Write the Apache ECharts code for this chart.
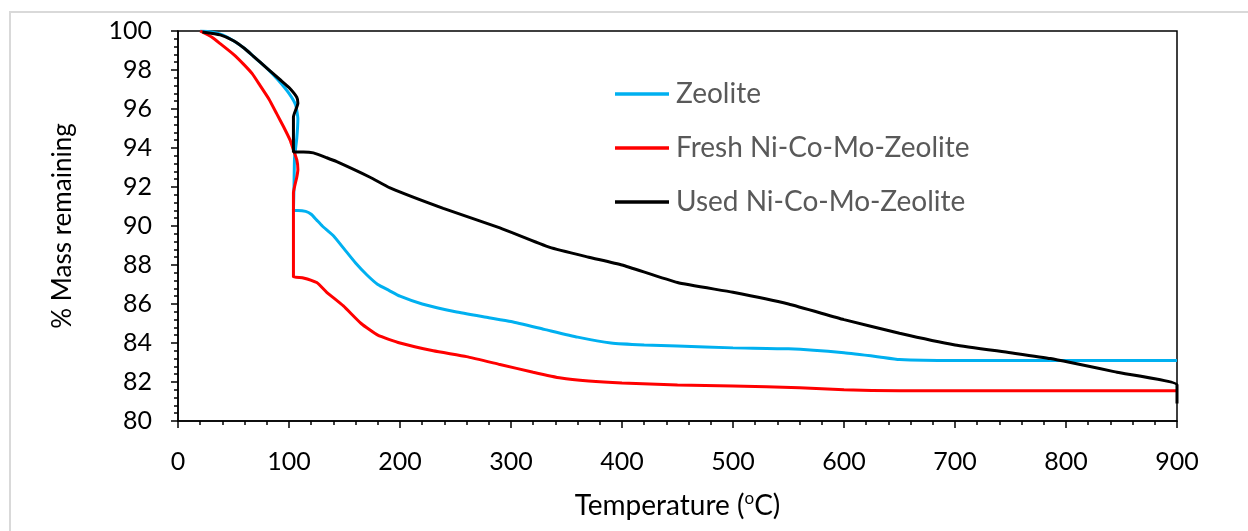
<!DOCTYPE html>
<html>
<head>
<meta charset="utf-8">
<script src="https://cdn.jsdelivr.net/npm/echarts@6/dist/echarts.min.js"></script>
<style>
  html, body { margin: 0; padding: 0; background: #fff; }
  #chart { width: 1248px; height: 531px; }
</style>
</head>
<body>
<div id="chart"></div>
<script>
// data (temperature in oC, % mass remaining)
const zeoliteT = [20, 30, 40, 50, 60, 70, 80, 90, 100, 106, 108, 107, 105, 104.5, 104, 108, 115, 120, 125, 130, 140, 150, 160, 170, 180, 190, 200, 220, 250, 280, 300, 330, 360, 390, 420, 450, 500, 550, 600, 630, 650, 700, 800, 900];
const zeoliteM = [100, 99.95, 99.8, 99.5, 99.1, 98.6, 98.1, 97.5, 96.8, 96.2, 95.5, 94.5, 93.5, 92, 90.8, 90.8, 90.75, 90.6, 90.3, 90.0, 89.5, 88.8, 88.1, 87.5, 87.0, 86.7, 86.4, 86.0, 85.6, 85.3, 85.1, 84.7, 84.3, 84.0, 83.9, 83.85, 83.75, 83.7, 83.5, 83.3, 83.15, 83.1, 83.1, 83.1];

const freshT = [20, 30, 38, 50, 59, 67, 74, 82, 89, 95, 101, 104, 107, 108, 107, 104, 104, 104, 112, 125, 134, 149, 165, 180, 200, 230, 260, 290, 320, 345, 370, 400, 450, 500, 560, 600, 650, 700, 800, 900];
const freshM = [100, 99.7, 99.35, 98.8, 98.3, 97.8, 97.2, 96.5, 95.75, 95.1, 94.4, 93.9, 93.4, 92.9, 92.5, 91.7, 89.5, 87.4, 87.35, 87.1, 86.6, 85.9, 85.0, 84.4, 84.0, 83.6, 83.3, 82.9, 82.5, 82.2, 82.05, 81.95, 81.85, 81.8, 81.7, 81.6, 81.55, 81.55, 81.55, 81.55];

const usedT = [22, 38, 50, 60, 68, 80, 92, 100, 107, 108, 104, 104, 104, 113, 122, 134, 143, 173, 191, 239, 290, 335, 370, 400, 450, 500, 550, 600, 650, 700, 750, 786, 846, 900, 900];
const usedM = [99.95, 99.8, 99.5, 99.1, 98.7, 98.1, 97.5, 97.1, 96.6, 96.3, 95.6, 94.8, 93.8, 93.8, 93.75, 93.5, 93.3, 92.5, 91.95, 90.9, 89.9, 88.9, 88.4, 88.0, 87.1, 86.6, 86.0, 85.2, 84.5, 83.9, 83.5, 83.2, 82.5, 81.85, 80.9];

const seriesNames = ['Zeolite', 'Fresh Ni-Co-Mo-Zeolite', 'Used Ni-Co-Mo-Zeolite'];
const seriesColors = ['#00b0f0', '#ff0000', '#000000'];

function pairs(t, m) {
  return t.map((v, i) => [v, m[i]]);
}

const myChart = echarts.init(document.getElementById('chart'));
const font = 'Lato, "Open Sans", sans-serif';

const option = {
  backgroundColor: '#fff',
  animation: false,
  textStyle: { fontFamily: font },
  graphic: [{
    type: 'rect',
    shape: { x: 10, y: 12, width: 1250, height: 530 },
    style: { fill: 'none', stroke: '#d9d9d9', lineWidth: 2 },
    silent: true
  }],
  grid: {
    left: 178, top: 31, width: 999, height: 390,
    show: true, borderColor: '#000', borderWidth: 1.5,
    containLabel: false
  },
  legend: {
    left: 610, top: 75,
    orient: 'vertical',
    itemWidth: 54, itemHeight: 3.5,
    itemGap: 26,
    icon: 'rect',
    data: seriesNames,
    textStyle: { fontSize: 28, color: '#595959', fontFamily: font, padding: [0, 0, 0, 2] }
  },
  xAxis: {
    type: 'value',
    min: 0, max: 900, interval: 100,
    name: 'Temperature ({sup|o}C)',
    nameLocation: 'middle',
    nameGap: 69,
    nameTextStyle: {
      fontSize: 28, color: '#000', fontFamily: font, lineHeight: 32,
      rich: { sup: { fontSize: 17, verticalAlign: 'top', lineHeight: 32, color: '#000', fontFamily: font } }
    },
    axisLine: { lineStyle: { color: '#000', width: 1.5 } },
    axisTick: { show: true, inside: false, length: 7, lineStyle: { color: '#000', width: 1.5 } },
    minorTick: { show: true, splitNumber: 5, length: 4, lineStyle: { color: '#000', width: 1.5 } },
    axisLabel: { fontSize: 25, color: '#000', margin: 28, fontFamily: font },
    splitLine: { show: false }
  },
  yAxis: {
    type: 'value',
    min: 80, max: 100, interval: 2,
    name: '% Mass remaining',
    nameLocation: 'middle',
    nameGap: 102,
    nameTextStyle: { fontSize: 26, color: '#000', fontFamily: font },
    axisLine: { lineStyle: { color: '#000', width: 1.5 } },
    axisTick: { show: true, inside: false, length: 7, lineStyle: { color: '#000', width: 1.5 } },
    minorTick: { show: true, splitNumber: 5, length: 4, lineStyle: { color: '#000', width: 1.5 } },
    axisLabel: { fontSize: 25, color: '#000', margin: 26, fontFamily: font },
    splitLine: { show: false }
  },
  series: [
    {
      name: seriesNames[0], type: 'line', showSymbol: false, smooth: 0.15,
      data: pairs(zeoliteT, zeoliteM),
      lineStyle: { color: seriesColors[0], width: 3 }, itemStyle: { color: seriesColors[0] }
    },
    {
      name: seriesNames[1], type: 'line', showSymbol: false, smooth: 0.15,
      data: pairs(freshT, freshM),
      lineStyle: { color: seriesColors[1], width: 3 }, itemStyle: { color: seriesColors[1] }
    },
    {
      name: seriesNames[2], type: 'line', showSymbol: false, smooth: 0.15,
      data: pairs(usedT, usedM),
      lineStyle: { color: seriesColors[2], width: 3 }, itemStyle: { color: seriesColors[2] }
    }
  ]
};

myChart.setOption(option);
</script>
</body>
</html>
